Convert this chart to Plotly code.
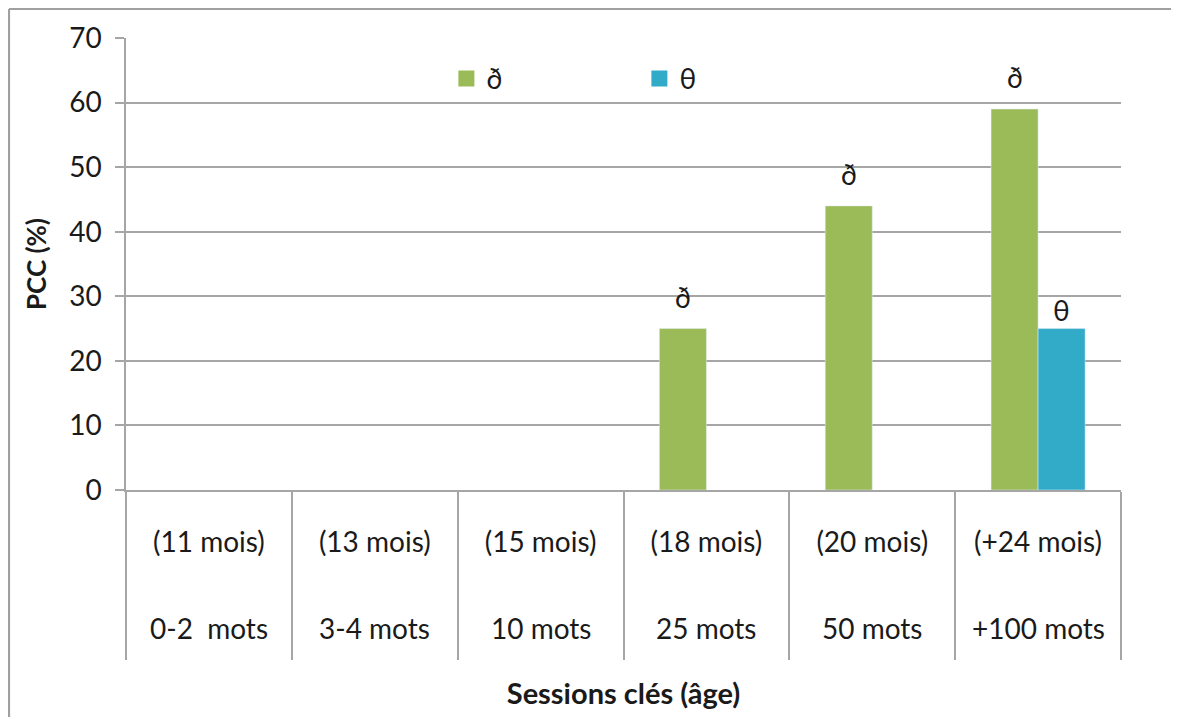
import plotly.graph_objects as go

categories = ["c1", "c2", "c3", "c4", "c5", "c6"]
age_labels = ["(11 mois)", "(13 mois)", "(15 mois)", "(18 mois)", "(20 mois)", "(+24 mois)"]
word_labels = ["0-2\u00a0 mots", "3-4 mots", "10 mots", "25 mots", "50 mots", "+100 mots"]
eth_values = [None, None, None, 25, 44, 59]
theta_values = [None, None, None, None, None, 25]
series_names = ["ð", "θ"]

FONT = "Lato"
TXT = "#1a1a1a"
GRID = "#a6a6a6"
GREEN = "#9bbb59"
BLUE = "#31abc7"

W, H = 1163, 709
L, T, PW, PH = 118, 30, 995, 452

fig = go.Figure()
for vals, name, color in [(eth_values, series_names[0], GREEN), (theta_values, series_names[1], BLUE)]:
    fig.add_trace(go.Bar(
        x=categories, y=vals, name=name, marker_color=color, showlegend=False,
    ))
for name, color in [(series_names[0], GREEN), (series_names[1], BLUE)]:
    fig.add_trace(go.Scatter(
        x=[None], y=[None], mode="markers", name=name,
        marker=dict(symbol="square", size=16, color=color),
    ))

annotations = []
# data labels above bars
half_bar = PW / len(categories) * (1 - 0.433) / 4
for vals, name, xs, ys in [(eth_values, series_names[0], -half_bar, 13),
                           (theta_values, series_names[1], half_bar, 0)]:
    for c, v in zip(categories, vals):
        if v is None:
            continue
        annotations.append(dict(x=c, xref="x", y=v, yref="y", text=name,
                                showarrow=False, yanchor="bottom", xshift=xs, yshift=ys,
                                font=dict(family=FONT, size=28, color=TXT)))
# second row of category labels
for c, w in zip(categories, word_labels):
    annotations.append(dict(x=c, xref="x", y=(490 - 628) / PH, yref="paper",
                            text=w, showarrow=False, yanchor="middle",
                            font=dict(family=FONT, size=28, color=TXT)))

frame_left = (1 - L) / PW
frame_top = (T + PH - 1) / PH
fig.update_layout(
    width=W, height=H,
    margin=dict(l=L, r=W - L - PW, t=T, b=H - T - PH, autoexpand=False),
    paper_bgcolor="white", plot_bgcolor="white",
    barmode="group", bargap=0.433, bargroupgap=0,
    font=dict(family=FONT, size=28, color=TXT),
    legend=dict(orientation="h", x=0.322, y=0.965, xanchor="left", yanchor="top",
                bgcolor="rgba(0,0,0,0)", entrywidth=148, itemsizing="trace",
                font=dict(family=FONT, size=28, color=TXT)),
    annotations=annotations,
    shapes=[
        dict(type="line", xref="paper", yref="paper", x0=frame_left, x1=1.2,
             y0=frame_top, y1=frame_top, line=dict(color="#a0a0a0", width=2.2), layer="below"),
        dict(type="line", xref="paper", yref="paper", x0=frame_left, x1=frame_left,
             y0=-1.0, y1=frame_top, line=dict(color="#a0a0a0", width=2.2), layer="below"),
    ],
)
fig.update_xaxes(
    automargin=False,
    tickmode="array", tickvals=categories, ticktext=age_labels,
    ticks="outside", tickson="boundaries", ticklen=168, tickwidth=1.5, tickcolor=GRID,
    showline=True, linecolor=GRID, linewidth=1.5,
    ticklabelstandoff=27,
    tickfont=dict(family=FONT, size=28, color=TXT),
    title=dict(text="<b>Sessions clés (âge)</b>", standoff=126,
               font=dict(family=FONT, size=29, color=TXT)),
)
fig.update_yaxes(
    automargin=False,
    range=[0, 70], dtick=10, showgrid=True, gridcolor=GRID, gridwidth=1.5,
    ticks="outside", ticklen=9, tickwidth=1.5, tickcolor=GRID,
    showline=True, linecolor=GRID, linewidth=1.5, zeroline=False,
    ticklabelstandoff=8,
    tickfont=dict(family=FONT, size=28, color=TXT),
    title=dict(text="<b>PCC (%)</b>", standoff=15,
               font=dict(family=FONT, size=26, color=TXT)),
)

fig.write_html("out.html")
